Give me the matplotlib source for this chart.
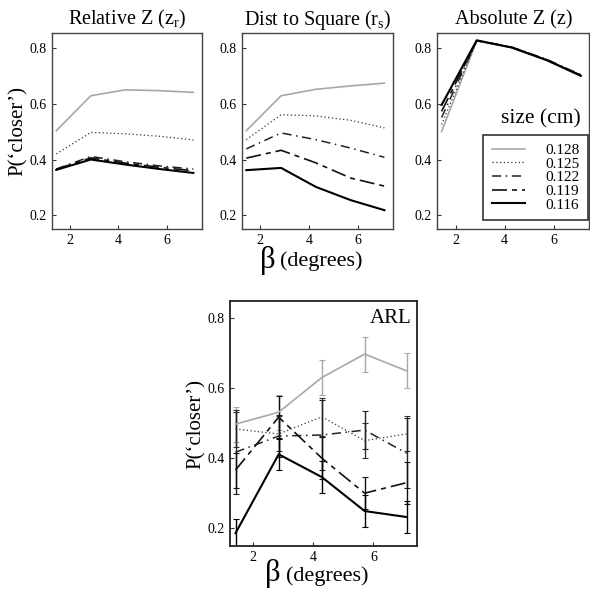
import numpy as np
import matplotlib
matplotlib.use('Agg')
import matplotlib.pyplot as plt

plt.rcParams['font.family'] = ['Liberation Serif', 'DejaVu Serif']
plt.rcParams['mathtext.fontset'] = 'custom'
plt.rcParams['mathtext.rm'] = 'Liberation Serif'
plt.rcParams['mathtext.it'] = 'Liberation Serif:italic'

# beta (degrees)
beta = [1.43, 2.86, 4.29, 5.71, 7.10]
sizes = ['0.128', '0.125', '0.122', '0.119', '0.116']

# Relative Z
relz = {
    '0.128': [0.503, 0.628, 0.649, 0.646, 0.640],
    '0.125': [0.420, 0.497, 0.492, 0.483, 0.470],
    '0.122': [0.366, 0.411, 0.392, 0.377, 0.366],
    '0.119': [0.365, 0.406, 0.387, 0.372, 0.360],
    '0.116': [0.363, 0.400, 0.382, 0.366, 0.352],
}
# Dist to Square
dist = {
    '0.128': [0.503, 0.628, 0.651, 0.663, 0.673],
    '0.125': [0.471, 0.560, 0.556, 0.540, 0.513],
    '0.122': [0.438, 0.495, 0.471, 0.441, 0.408],
    '0.119': [0.405, 0.433, 0.388, 0.334, 0.305],
    '0.116': [0.362, 0.370, 0.302, 0.255, 0.219],
}
# Absolute Z
absz = {
    '0.128': [0.500, 0.824, 0.800, 0.756, 0.700],
    '0.125': [0.525, 0.824, 0.801, 0.757, 0.702],
    '0.122': [0.550, 0.825, 0.802, 0.758, 0.703],
    '0.119': [0.572, 0.825, 0.801, 0.756, 0.701],
    '0.116': [0.595, 0.826, 0.800, 0.755, 0.699],
}
# ARL with error bars
arl = {
    '0.128': [0.497, 0.531, 0.630, 0.697, 0.649],
    '0.125': [0.483, 0.469, 0.518, 0.450, 0.469],
    '0.122': [0.417, 0.463, 0.466, 0.480, 0.414],
    '0.119': [0.366, 0.517, 0.400, 0.300, 0.330],
    '0.116': [0.186, 0.411, 0.346, 0.249, 0.232],
}
arl_err = {
    '0.128': [0.05, 0.05, 0.05, 0.05, 0.05],
    '0.125': [0.05, 0.05, 0.055, 0.05, 0.05],
    '0.122': [0.12, 0.06, 0.10, 0.055, 0.10],
    '0.119': [0.05, 0.06, 0.06, 0.046, 0.06],
    '0.116': [0.04, 0.045, 0.045, 0.045, 0.045],
}

styles = {
    '0.128': dict(color='#a8a8a8', lw=1.2, ls='-'),
    '0.125': dict(color='#333333', lw=0.9, ls=(0, (1, 2))),
    '0.122': dict(color='#222222', lw=1.1, ls=(0, (6, 3, 1, 3))),
    '0.119': dict(color='#111111', lw=1.2, ls=(0, (9, 3, 3, 3))),
    '0.116': dict(color='black', lw=1.5, ls='-'),
}

fig = plt.figure(figsize=(5.9, 5.9), dpi=100)


def setup(ax):
    ax.set_xlim(1.25, 7.45)
    ax.set_ylim(0.152, 0.852)
    ax.set_xticks([2, 4, 6])
    ax.set_yticks([0.2, 0.4, 0.6, 0.8])
    ax.set_yticklabels(['0.2', '0.4', '0.6', '0.8'])
    ax.tick_params(direction='in', length=3, width=0.8, labelsize=10, pad=4,
                   colors='#333333', labelcolor='black')
    for s in ax.spines.values():
        s.set_color('#444444')
        s.set_linewidth(1.0)


def beta_label(ax, x, y):
    ax.text(x, y, 'β', transform=ax.transAxes, ha='right', va='top',
            fontsize=22)
    ax.text(x + 0.03, y - 0.03, '(degrees)', transform=ax.transAxes,
            ha='left', va='top', fontsize=16)


panels = [
    ([0.088, 0.612, 0.254, 0.332], relz, r'Relative Z (z$_\mathrm{r}$)'),
    ([0.410, 0.612, 0.256, 0.332], dist, r'Dist to Square (r$_\mathrm{s}$)'),
    ([0.741, 0.612, 0.258, 0.332], absz, 'Absolute Z (z)'),
]
axes = []
for rect, data, title in panels:
    ax = fig.add_axes(rect)
    setup(ax)
    for s in sizes:
        ax.plot(beta, data[s], label=s, **styles[s])
    ax.set_title(title, fontsize=14.5, pad=6)
    axes.append(ax)

axes[0].set_ylabel('P(‘closer’)', fontsize=15, labelpad=1)
beta_label(axes[1], 0.22, -0.085)

leg = axes[2].legend(loc='lower right', bbox_to_anchor=(0.99, 0.045),
                     fontsize=11, handlelength=2.2, labelspacing=0.0,
                     frameon=True, fancybox=False, borderpad=0.55,
                     handletextpad=1.3, borderaxespad=0)
leg.get_frame().set_edgecolor('black')
leg.get_frame().set_linewidth(1.2)
axes[2].text(0.68, 0.56, 'size (cm)', transform=axes[2].transAxes,
             ha='center', va='center', fontsize=15.5)

ax = fig.add_axes([0.39, 0.075, 0.317, 0.414])
setup(ax)
ax.set_ylim(0.15, 0.847)
for s in sizes:
    st = styles[s]
    ax.errorbar(beta, arl[s], yerr=arl_err[s], color=st['color'], lw=st['lw'],
                ls=st['ls'], elinewidth=1.0, ecolor=st['color'], capsize=2.5,
                capthick=0.8)
for s in ax.spines.values():
    s.set_color('#222222')
    s.set_linewidth(1.3)
ax.text(0.97, 0.97, 'ARL', transform=ax.transAxes, ha='right', va='top',
        fontsize=15)
ax.set_ylabel('P(‘closer’)', fontsize=15, labelpad=1)
beta_label(ax, 0.27, -0.055)

plt.savefig('out.png', dpi=100)
